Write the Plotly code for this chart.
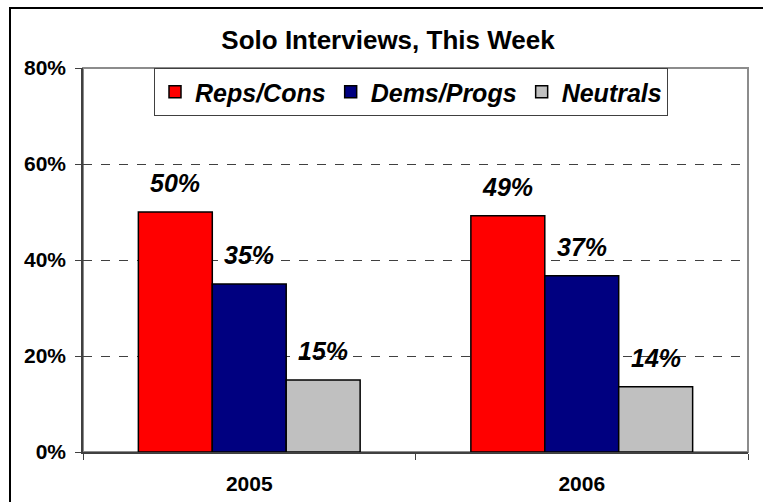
import plotly.graph_objects as go

years = ["2005", "2006"]
series_names = ["Reps/Cons", "Dems/Progs", "Neutrals"]
reps_cons = [50.0, 49.2]
dems_progs = [35.0, 36.7]
neutrals = [15.0, 13.6]
label_text = [["50%", "49%"], ["35%", "37%"], ["15%", "14%"]]

colors = ["#FF0000", "#000080", "#C0C0C0"]
font_family = "Arial, 'Liberation Sans', sans-serif"

# pixel layout of the plot area
W, H = 763, 502
L, R, T, B = 83, 15, 68, 50
plot_w = W - L - R
plot_h = H - T - B
bar_px = plot_w / len(years) * (1 - 0.333) / len(series_names)

fig = go.Figure()
for name, vals, col in zip(series_names, [reps_cons, dems_progs, neutrals], colors):
    fig.add_trace(
        go.Bar(
            x=years,
            y=vals,
            name=f"<b><i>{name}</i></b>",
            marker=dict(color=col, line=dict(color="#000000", width=1.5)),
        )
    )

# data labels above each bar
for i, (vals, texts) in enumerate(zip([reps_cons, dems_progs, neutrals], label_text)):
    for j, (v, t) in enumerate(zip(vals, texts)):
        fig.add_annotation(
            x=j,
            y=v,
            text=f"<b><i>{t}</i></b>",
            showarrow=False,
            xshift=(i - 1) * bar_px,
            yshift=29,
            yanchor="middle",
            font=dict(family=font_family, size=25, color="#000000"),
        )

# plot area frame (gray) and outer chart border (black)
fig.add_shape(
    type="rect", xref="x domain", yref="y domain",
    x0=0, x1=1, y0=0, y1=1,
    line=dict(color="#8C8C8C", width=2), layer="below",
)
fig.add_shape(
    type="rect", xref="paper", yref="paper",
    x0=(10 - L) / plot_w, x1=(W + 20 - L) / plot_w,
    y0=(-B - 20) / plot_h, y1=(H - 8 - B) / plot_h,
    line=dict(color="#000000", width=2), layer="below",
)

fig.update_layout(
    width=W,
    height=H,
    margin=dict(l=L, r=R, t=T, b=B, autoexpand=False),
    paper_bgcolor="white",
    plot_bgcolor="white",
    barmode="group",
    bargap=0.333,
    bargroupgap=0,
    font=dict(family=font_family, color="#000000"),
    title=dict(
        text="<b>Solo Interviews, This Week</b>",
        xref="container", x=388 / W, xanchor="center",
        yref="container", y=1 - 40 / H, yanchor="middle",
        font=dict(size=26, family=font_family, color="#000000"),
    ),
    legend=dict(
        orientation="h",
        x=(154 - L) / plot_w, xanchor="left",
        y=1.0, yanchor="top",
        bgcolor="white",
        bordercolor="#404040",
        borderwidth=1,
        font=dict(size=25, family=font_family, color="#000000"),
    ),
    showlegend=True,
)

fig.update_yaxes(
    range=[0, 80],
    dtick=20,
    ticksuffix="%",
    tickformat="d",
    tickfont=dict(size=21, family=font_family, color="#000000", weight="bold"),
    showgrid=True,
    gridcolor="#404040",
    griddash="dash",
    gridwidth=1,
    showline=True,
    linecolor="#404040",
    linewidth=1.5,
    ticks="outside",
    ticklen=6,
    tickcolor="#404040",
    ticklabelstandoff=5,
    zeroline=False,
    automargin=False,
    fixedrange=True,
)
fig.update_xaxes(
    type="category",
    range=[-0.5, len(years) - 0.5],
    tickfont=dict(size=21, family=font_family, color="#000000", weight="bold"),
    showline=True,
    linecolor="#404040",
    linewidth=1.5,
    ticks="outside",
    tickson="boundaries",
    ticklen=6,
    tickcolor="#404040",
    ticklabelstandoff=12,
    showgrid=False,
    automargin=False,
    fixedrange=True,
)

fig.write_html(
    "out.html",
    config={"displayModeBar": False},
    post_script="document.body.style.margin='0';",
)
